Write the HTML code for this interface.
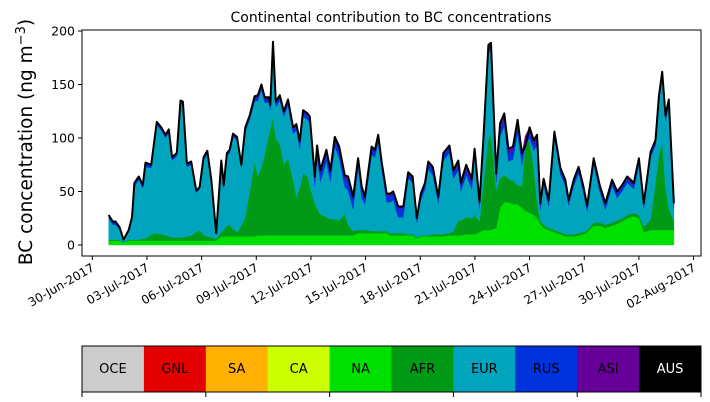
<!DOCTYPE html>
<html><head><meta charset="utf-8"><style>
html,body{margin:0;padding:0;background:#fff;}
svg{display:block;font-family:"DejaVu Sans","Liberation Sans",sans-serif;}
</style></head><body>
<svg id="chart" width="710" height="402" viewBox="0 0 710 402" xmlns="http://www.w3.org/2000/svg">
<text x="391" y="22" font-size="14" text-anchor="middle">Continental contribution to BC concentrations</text>
<text transform="translate(32,142) rotate(-90)" font-size="18.5" text-anchor="middle">BC concentration (ng m<tspan dy="-7" font-size="13">−3</tspan><tspan dy="7">)</tspan></text>
<g id="plot"></g>
<g id="axes"></g>
<g id="cbar"></g>
</svg>
<script>
const days=[0.90,1.12,1.27,1.49,1.72,2.00,2.18,2.31,2.55,2.77,2.92,3.23,3.54,3.78,4.02,4.20,4.38,4.64,4.84,4.97,5.19,5.43,5.70,5.89,6.11,6.31,6.53,6.80,7.08,7.21,7.39,7.54,7.72,7.94,8.18,8.40,8.64,8.91,9.09,9.28,9.46,9.70,9.77,9.92,10.07,10.29,10.51,10.74,11.02,11.20,11.39,11.57,11.81,11.94,12.21,12.34,12.52,12.85,13.07,13.31,13.55,13.86,14.04,14.32,14.59,14.78,14.96,15.33,15.51,15.69,15.88,16.16,16.34,16.52,16.79,17.07,17.34,17.58,17.81,18.03,18.26,18.44,18.69,18.99,19.27,19.60,19.82,20.09,20.23,20.52,20.83,20.98,21.25,21.47,21.74,21.88,22.17,22.39,22.61,22.84,23.09,23.34,23.58,23.76,24.00,24.22,24.41,24.59,24.77,25.05,25.36,25.69,25.96,26.14,26.42,26.69,26.94,27.16,27.52,27.85,28.16,28.53,28.81,29.08,29.36,29.72,30.00,30.27,30.64,30.91,31.10,31.28,31.46,31.64,31.92];
const total=[28,22,22,17,5,14,26,58,64,56,77,75,115,110,103,108,82,86,135,134,76,78,51,54,82,88,61,11,79,56,86,89,104,101,75,110,121,139,140,150,138,138,131,190,134,140,125,136,110,113,97,126,123,120,64,93,70,89,70,101,92,65,64,45,81,55,45,92,89,103,78,48,48,50,36,36,68,64,25,48,58,78,73,45,86,93,70,79,58,75,62,90,40,101,187,189,67,114,123,90,92,117,86,92,110,98,103,39,62,42,106,72,61,42,61,73,56,37,81,56,39,61,50,56,64,58,81,39,87,98,139,162,121,136,39];
const na=[4,4,4,4,2,4,4,4,4,4,4,4,4,4,4,4,4,4,4,4,4,4,4,4,4,4,4,4,8,8,8,8,8,8,8,8,8,8,9,9,9,9,9,9,9,9,9,9,9,9,9,9,9,9,9,9,9,9,9,9,9,9,9,9,11,11,11,11,11,11,11,11,9,9,9,9,9,9,6,8,8,8,8,8,8,9,9,9,9,10,10,10,12,14,14,14,16,35,40,40,38,38,35,32,30,28,25,20,16,14,12,10,8,8,8,9,10,12,18,18,16,18,20,22,25,27,25,12,14,14,14,14,14,14,14];
const afr=[1,1,1,1,0,1,1,1,1,2,2,6,7,6,5,4,3,3,3,3,4,5,8,10,5,4,3,2,4,6,10,11,7,4,10,18,42,70,55,64,75,95,100,110,90,86,66,72,52,36,45,58,55,46,30,25,20,17,15,15,14,20,10,4,3,3,3,2,2,2,2,2,2,2,2,2,1,1,1,1,1,1,2,2,2,2,4,14,14,16,15,18,10,45,85,90,35,28,25,22,22,18,20,60,68,45,15,3,3,2,2,2,2,2,2,2,2,2,3,3,3,3,3,3,3,3,3,5,10,45,70,82,40,20,8];
const rus=[2,2,2,1,0,1,2,2,2,2,3,2,2,2,2,2,2,2,2,2,2,2,1,1,2,2,2,1,2,2,2,2,2,2,2,3,3,3,3,3,3,3,3,3,3,3,3,4,4,4,4,4,4,4,6,8,8,8,8,6,8,8,10,10,6,8,5,6,5,5,5,6,6,6,8,8,4,4,3,4,4,5,6,4,5,5,5,6,5,6,6,6,4,4,4,5,5,8,8,8,8,8,8,6,6,6,6,4,4,4,4,4,4,3,4,4,4,4,4,4,4,4,4,4,4,4,4,3,3,3,3,3,3,3,3];
const asi=[1,1,1,1,0,1,1,1,1,1,1,1,1,1,1,1,1,1,1,1,1,1,1,1,1,1,1,0,1,1,1,1,1,1,1,1,1,2,2,2,2,2,2,2,2,2,2,2,2,2,3,2,2,2,3,4,3,3,3,3,3,3,3,2,2,3,2,2,2,2,2,2,2,2,2,2,2,2,1,2,2,2,2,2,2,2,3,3,3,4,4,3,2,2,2,3,3,4,4,4,4,4,4,4,4,4,4,2,2,2,2,2,2,2,2,2,2,2,2,2,2,2,2,2,2,2,2,2,2,2,2,2,2,2,2];
const yTicks=[0,50,100,150,200];
const xTickLabels=["30-Jun-2017","03-Jul-2017","06-Jul-2017","09-Jul-2017","12-Jul-2017","15-Jul-2017","18-Jul-2017","21-Jul-2017","24-Jul-2017","27-Jul-2017","30-Jul-2017","02-Aug-2017"];
const xTickDays=[0,3,6,9,12,15,18,21,24,27,30,33];
const regions=["OCE","GNL","SA","CA","NA","AFR","EUR","RUS","ASI","AUS"];
const regionColors=["#cccccc","#e50000","#ffb000","#ccff00","#00e000","#009a16","#00a5bd","#0033dd","#660099","#000000"];

const NS="http://www.w3.org/2000/svg";
const PX0=82,PX1=701,PY0=30,PY1=256;
function xs(d){return 92.3+d*18.22;}
function ys(v){return 245-v*1.07;}
function mk(tag,attrs,parent){const e=document.createElementNS(NS,tag);for(const k in attrs)e.setAttribute(k,attrs[k]);parent.appendChild(e);return e;}
const plot=document.getElementById('plot'),axes=document.getElementById('axes'),cbar=document.getElementById('cbar');

const eur=total.map((t,i)=>Math.max(0,t-na[i]-afr[i]-rus[i]-asi[i]));
const layers=[["na",na,regionColors[4]],["afr",afr,regionColors[5]],["eur",eur,regionColors[6]],["rus",rus,regionColors[7]],["asi",asi,regionColors[8]]];
let base=days.map(()=>0);
layers.forEach(([nm,arr,col])=>{
  const top=base.map((b,i)=>b+arr[i]);
  let d="M"+days.map((t,i)=>xs(t).toFixed(1)+","+ys(top[i]).toFixed(1)).join("L");
  for(let i=days.length-1;i>=0;i--)d+="L"+xs(days[i]).toFixed(1)+","+ys(base[i]).toFixed(1);
  const p=mk('path',{d:d+"Z",fill:col,stroke:col,'stroke-width':0.4},plot);
  
  
  base=top;
});
const line=mk('path',{d:"M"+days.map((t,i)=>xs(t).toFixed(1)+","+ys(total[i]).toFixed(1)).join("L"),fill:"none",stroke:"#000",'stroke-width':2,'stroke-linejoin':'round'},plot);



const fr=mk('rect',{x:PX0,y:PY0,width:PX1-PX0,height:PY1-PY0,fill:"none",stroke:"#000",'stroke-width':1},axes);


yTicks.forEach(v=>{
  const y=ys(v);
  mk('line',{x1:PX0-4,x2:PX0,y1:y,y2:y,stroke:"#000"},axes);
  const t=mk('text',{x:PX0-7,y:y+4.5,'font-size':12.5,'text-anchor':'end'},axes);
  t.textContent=v;
  
  
});
xTickDays.forEach((d,i)=>{
  const x=xs(d);
  mk('line',{x1:x,x2:x,y1:PY1,y2:PY1+4,stroke:"#000"},axes);
  const t=mk('text',{x:0,y:0,'font-size':12,'text-anchor':'end',transform:`translate(${x+3},${PY1+14}) rotate(-30)`},axes);
  t.textContent=xTickLabels[i];
  
  
});

const CX0=82,CX1=701,CY0=346,CY1=392,cw=(CX1-CX0)/regions.length;
regions.forEach((r,i)=>{
  const rc=mk('rect',{x:CX0+i*cw,y:CY0,width:cw+0.5,height:CY1-CY0,fill:regionColors[i]},cbar);
  
  
  const t=mk('text',{x:CX0+(i+0.5)*cw,y:CY0+27,'font-size':13,'text-anchor':'middle',fill:i===9?"#fff":"#000"},cbar);
  t.textContent=r;
  
  
});
mk('rect',{x:CX0,y:CY0,width:CX1-CX0,height:CY1-CY0,fill:"none",stroke:"#000"},cbar);
for(let k=0;k<=5;k++){const x=CX0+k*2*cw;mk('line',{x1:x,x2:x,y1:CY1,y2:CY1+5,stroke:"#000"},cbar);}
</script>
</body></html>
